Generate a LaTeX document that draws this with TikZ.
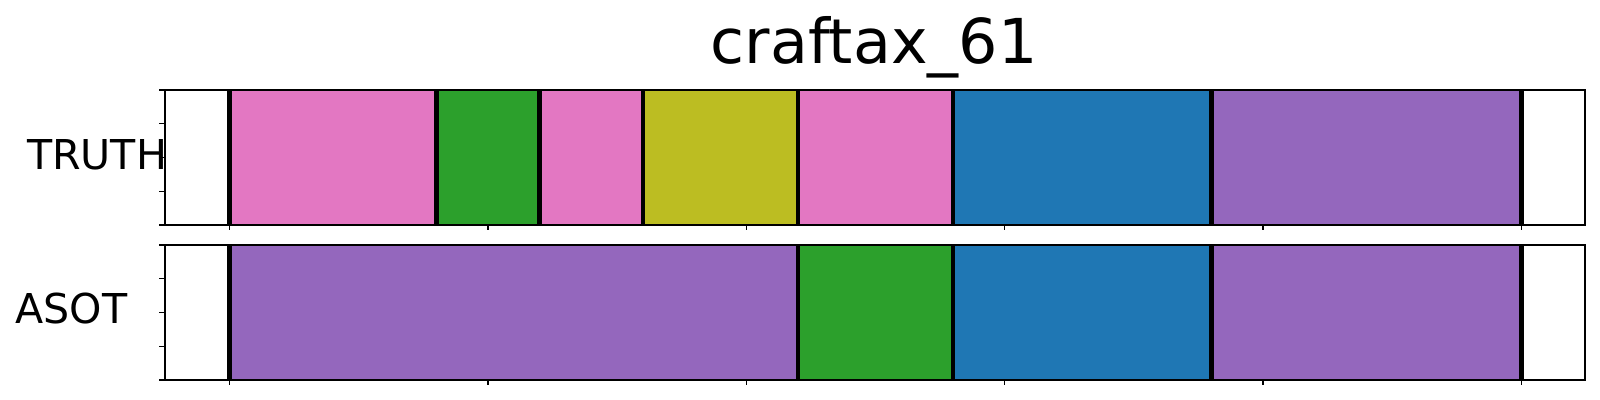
\documentclass[tikz,border=0pt]{standalone}
\usepackage{fontspec}
\setmainfont{DejaVu Sans}
\definecolor{tabpink}{HTML}{E377C2}
\definecolor{tabgreen}{HTML}{2CA02C}
\definecolor{tabolive}{HTML}{BCBD22}
\definecolor{tabblue}{HTML}{1F77B4}
\definecolor{tabpurple}{HTML}{9467BD}

\begin{document}
\begin{tikzpicture}[x=0.01cm,y=-0.01cm,
                    frame/.style={draw=black,line width=0.45pt},
                    seg/.style={fill=#1,draw=#1!85!black,line width=0.3pt},
                    cut/.style={draw=black,line width=1.3pt},
                    tick/.style={draw=black,line width=0.35pt},
                    rowlabel/.style={anchor=base,font=\fontsize{11.7}{14}\selectfont}]
  \useasboundingbox (0,0) rectangle (1600,400);

  \node[anchor=base,font=\fontsize{17.6}{21}\selectfont] (title) at (874,63) {craftax\_61};
  \node[rowlabel] (truth) at (97,169) {TRUTH};
  \node[rowlabel] (asot)  at (71.5,323) {ASOT};

  % segments, in frame units
  \begin{scope}[xshift=2.295cm,x=0.05164cm]
    \foreach \a/\b/\c in {0/40/tabpink,40/60/tabgreen,60/80/tabpink,80/110/tabolive,
                          110/140/tabpink,140/190/tabblue,190/250/tabpurple}
      \path[seg=\c] (\a,90) rectangle (\b,225);
    \foreach \a/\b/\c in {0/110/tabpurple,110/140/tabgreen,140/190/tabblue,190/250/tabpurple}
      \path[seg=\c] (\a,245) rectangle (\b,380);

    \foreach \a in {0,40,60,80,110,140,190,250}
      \draw[cut] (\a,90) -- (\a,225);
    \foreach \a in {0,110,140,190,250}
      \draw[cut] (\a,245) -- (\a,380);

    \foreach \t in {0,50,...,250} {
      \draw[tick] (\t,225) -- (\t,230);
      \draw[tick] (\t,380) -- (\t,385);
    }
  \end{scope}

  \foreach \y in {0,33.75,67.5,101.25,135} {
    \draw[tick] (165,90+\y) -- (159,90+\y);
    \draw[tick] (165,245+\y) -- (159,245+\y);
  }
  \draw[frame] (165,90) rectangle (1585,225);
  \draw[frame] (165,245) rectangle (1585,380);
\end{tikzpicture}
\end{document}
